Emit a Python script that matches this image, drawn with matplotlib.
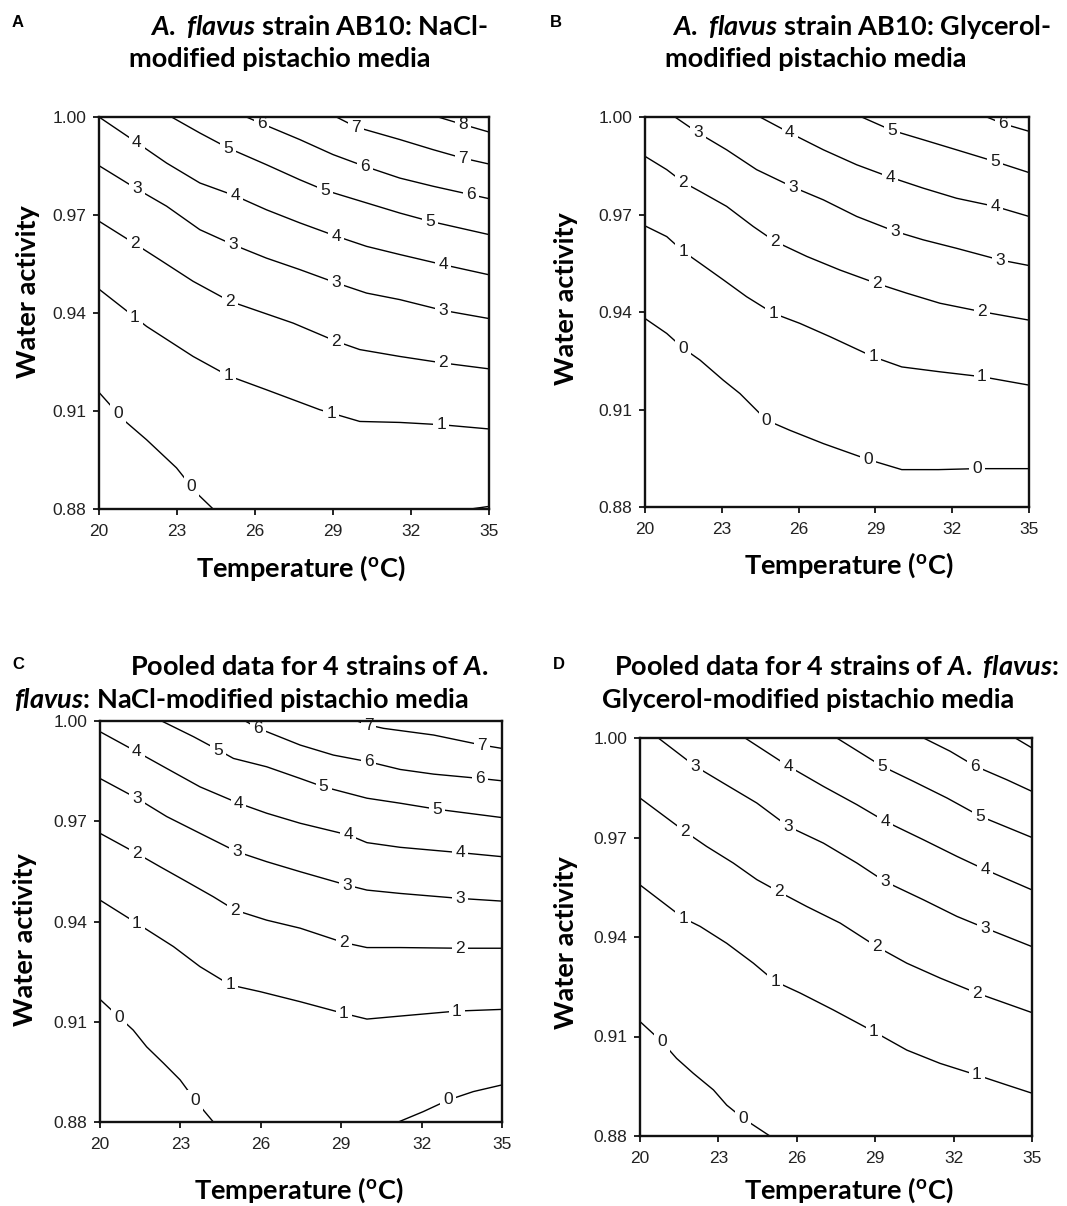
import numpy as np
import matplotlib.pyplot as plt

plt.rcParams["mathtext.fontset"] = "custom"
plt.rcParams["mathtext.rm"] = "Lato:bold"
plt.rcParams["mathtext.bf"] = "Lato:bold"
plt.rcParams["mathtext.it"] = "Lato:italic:bold"

W, H = 1067, 1206
TITLE_FONT = "Lato"
NUM_FONT = "Liberation Sans"

temp_ticks = [20, 23, 26, 29, 32, 35]
aw_ticks = [0.88, 0.91, 0.94, 0.97, 1.00]

# ---- A: strain AB10, NaCl-modified media ----
a_levels = [0, 0, 1, 2, 3, 4, 5, 6, 7, 8]
a_temp = [
    [20.0, 20.94, 21.83, 22.98, 23.75, 24.39],
    [34.3, 35.0],
    [20.0, 21.83, 23.62, 24.97, 26.44, 28.49, 30.03, 31.57, 33.17, 35.0],
    [20.0, 21.38, 22.34, 23.62, 25.03, 27.47, 29.13, 30.03, 31.57, 33.23, 35.0],
    [20.0, 21.45, 22.60, 23.88, 25.16, 26.44, 27.72, 29.13, 30.29, 31.57, 33.23, 35.0],
    [20.0, 21.45, 22.60, 23.88, 25.23, 26.44, 27.72, 29.13, 30.29, 31.57, 33.23, 35.0],
    [22.79, 23.88, 24.97, 26.44, 27.72, 28.68, 30.29, 31.57, 32.72, 35.0],
    [25.67, 26.25, 27.72, 29.00, 30.22, 31.57, 32.85, 34.32, 35.0],
    [29.13, 29.90, 31.57, 32.85, 34.00, 35.0],
    [33.04, 34.00, 35.0],
]
a_aw = [
    [0.9157, 0.9073, 0.9012, 0.8926, 0.8849, 0.8800],
    [0.8800, 0.8808],
    [0.9473, 0.9359, 0.9267, 0.9208, 0.9165, 0.9104, 0.9068, 0.9065, 0.9058, 0.9045],
    [0.9681, 0.9612, 0.9563, 0.9497, 0.9436, 0.9369, 0.9313, 0.9288, 0.9267, 0.9247, 0.9229],
    [0.9851, 0.9780, 0.9727, 0.9655, 0.9609, 0.9568, 0.9533, 0.9492, 0.9461, 0.9441, 0.9408, 0.9383],
    [1.0, 0.9922, 0.9859, 0.9798, 0.9759, 0.9716, 0.9676, 0.9635, 0.9604, 0.9579, 0.9548, 0.9517],
    [1.0, 0.9951, 0.9905, 0.9854, 0.9808, 0.9776, 0.9737, 0.9706, 0.9681, 0.9640],
    [1.0, 0.9980, 0.9931, 0.9885, 0.9849, 0.9813, 0.9788, 0.9762, 0.9750],
    [1.0, 0.9969, 0.9931, 0.9900, 0.9874, 0.9856],
    [1.0, 0.9977, 0.9954],
]
a_label_temp = [
    [20.74, 23.56], [], [21.38, 24.97, 28.94, 33.17], [21.38, 25.03, 29.13, 33.23],
    [21.45, 25.16, 29.13, 33.23], [21.45, 25.23, 29.13, 33.23], [24.97, 28.68, 32.72],
    [26.25, 30.22, 34.32], [29.90, 34.0], [34.0],
]

# ---- B: strain AB10, glycerol-modified media ----
b_levels = [0, 1, 2, 3, 4, 5, 6]
b_temp = [
    [20.0, 20.85, 21.50, 22.15, 23.06, 23.71, 24.75, 25.66, 26.97, 28.72, 30.03, 31.46, 32.96, 35.0],
    [20.0, 20.85, 21.50, 22.15, 23.06, 23.97, 25.01, 26.05, 27.23, 28.92, 30.03, 31.52, 33.15, 35.0],
    [20.0, 20.85, 21.50, 22.15, 23.19, 24.23, 25.08, 26.32, 27.62, 29.05, 30.22, 31.52, 33.15, 35.0],
    [21.17, 22.08, 23.19, 24.36, 25.79, 26.97, 28.27, 29.77, 30.87, 32.17, 33.87, 35.0],
    [24.49, 25.66, 26.97, 28.27, 29.57, 30.87, 32.17, 33.67, 35.0],
    [28.46, 29.64, 30.87, 32.17, 33.67, 35.0],
    [33.35, 34.0, 35.0],
]
b_aw = [
    [0.9380, 0.9334, 0.9288, 0.9252, 0.9190, 0.9149, 0.9067, 0.9036, 0.8995, 0.8946, 0.8915, 0.8915, 0.8918, 0.8918],
    [0.9665, 0.9632, 0.9586, 0.9550, 0.9499, 0.9447, 0.9396, 0.9365, 0.9324, 0.9262, 0.9231, 0.9216, 0.9201, 0.9175],
    [0.9879, 0.9838, 0.9799, 0.9771, 0.9725, 0.9663, 0.9617, 0.9571, 0.9529, 0.9488, 0.9458, 0.9427, 0.9401, 0.9375],
    [1.0, 0.9951, 0.9899, 0.9838, 0.9784, 0.9745, 0.9694, 0.9648, 0.9622, 0.9596, 0.9560, 0.9543],
    [1.0, 0.9951, 0.9899, 0.9853, 0.9815, 0.9781, 0.9750, 0.9725, 0.9694],
    [1.0, 0.9959, 0.9930, 0.9899, 0.9863, 0.9829],
    [1.0, 0.9979, 0.9956],
]
b_label_temp = [
    [21.50, 24.75, 28.72, 32.96], [21.50, 25.01, 28.92, 33.15], [21.50, 25.08, 29.05, 33.15],
    [22.08, 25.79, 29.77, 33.87], [25.66, 29.57, 33.67], [29.64, 33.67], [34.0],
]

# ---- C: pooled 4 strains, NaCl-modified media ----
c_levels = [0, 0, 1, 2, 3, 4, 5, 6, 7]
c_temp = [
    [20.0, 21.24, 21.74, 22.37, 22.99, 23.54, 24.23],
    [31.13, 32.06, 33.0, 33.93, 35.0],
    [20.0, 21.37, 22.74, 23.73, 24.86, 25.98, 27.47, 29.09, 29.96, 31.20, 33.32, 35.0],
    [20.0, 21.37, 22.24, 23.24, 24.23, 25.04, 26.22, 27.47, 29.09, 29.96, 31.20, 33.44, 35.0],
    [20.0, 21.37, 22.49, 23.73, 25.10, 26.22, 27.47, 29.21, 29.96, 31.20, 33.44, 35.0],
    [20.0, 21.37, 22.49, 23.73, 25.17, 26.22, 27.47, 29.27, 29.96, 31.20, 33.44, 35.0],
    [22.30, 23.49, 24.42, 24.98, 26.22, 27.47, 28.34, 29.96, 31.20, 32.57, 35.0],
    [25.42, 25.91, 27.47, 28.71, 30.02, 31.20, 32.45, 34.19, 35.0],
    [29.59, 30.02, 30.58, 32.45, 34.25, 35.0],
]
c_aw = [
    [0.9167, 0.9075, 0.9025, 0.8976, 0.8926, 0.8866, 0.8800],
    [0.8800, 0.8831, 0.8866, 0.8891, 0.8911],
    [0.9464, 0.9395, 0.9325, 0.9265, 0.9210, 0.9190, 0.9160, 0.9125, 0.9108, 0.9117, 0.9132, 0.9137],
    [0.9664, 0.9604, 0.9564, 0.9519, 0.9474, 0.9434, 0.9404, 0.9380, 0.9337, 0.9322, 0.9322, 0.9320, 0.9320],
    [0.9828, 0.9769, 0.9714, 0.9664, 0.9609, 0.9579, 0.9549, 0.9509, 0.9494, 0.9484, 0.9469, 0.9461],
    [0.9968, 0.9908, 0.9858, 0.9803, 0.9754, 0.9724, 0.9694, 0.9659, 0.9636, 0.9622, 0.9606, 0.9594],
    [1.0, 0.9953, 0.9913, 0.9888, 0.9863, 0.9828, 0.9803, 0.9769, 0.9754, 0.9736, 0.9711],
    [1.0, 0.9978, 0.9928, 0.9898, 0.9878, 0.9855, 0.9841, 0.9828, 0.9821],
    [1.0, 0.9988, 0.9978, 0.9958, 0.9928, 0.9918],
]
c_label_temp = [
    [20.72, 23.55], [33.0], [21.37, 24.86, 29.09, 33.32], [21.37, 25.04, 29.09, 33.44],
    [21.37, 25.10, 29.21, 33.44], [21.37, 25.17, 29.27, 33.44], [24.42, 28.34, 32.57],
    [25.91, 30.02, 34.19], [30.02, 34.25],
]

# ---- D: pooled 4 strains, glycerol-modified media ----
d_levels = [0, 1, 2, 3, 4, 5, 6, 7]
d_temp = [
    [20.0, 20.83, 21.40, 22.04, 22.81, 23.32, 23.95, 24.97],
    [20.0, 21.66, 22.30, 23.32, 24.34, 25.17, 26.13, 27.40, 28.94, 30.21, 31.48, 32.88, 34.03, 35.0],
    [20.0, 21.72, 22.55, 23.57, 24.47, 25.30, 26.38, 27.66, 29.06, 30.21, 31.49, 32.89, 35.0],
    [20.70, 22.11, 23.19, 24.47, 25.68, 27.02, 28.30, 29.38, 30.85, 32.13, 33.21, 35.0],
    [24.02, 25.68, 27.02, 28.30, 29.38, 30.85, 32.13, 33.21, 35.0],
    [27.53, 29.26, 30.47, 31.75, 33.02, 35.0],
    [30.85, 31.87, 32.83, 34.04, 35.0],
    [34.36, 35.0],
]
d_aw = [
    [0.9145, 0.9085, 0.9034, 0.8989, 0.8939, 0.8893, 0.8853, 0.8800],
    [0.9557, 0.9457, 0.9432, 0.9381, 0.9321, 0.9266, 0.9231, 0.9180, 0.9115, 0.9059, 0.9019, 0.8984, 0.8954, 0.8929],
    [0.9819, 0.9718, 0.9673, 0.9623, 0.9573, 0.9537, 0.9492, 0.9442, 0.9371, 0.9321, 0.9276, 0.9231, 0.9172],
    [1.0, 0.9915, 0.9864, 0.9804, 0.9733, 0.9683, 0.9623, 0.9567, 0.9512, 0.9462, 0.9427, 0.9371],
    [1.0, 0.9915, 0.9854, 0.9799, 0.9749, 0.9693, 0.9643, 0.9603, 0.9542],
    [1.0, 0.9915, 0.9869, 0.9819, 0.9764, 0.9700],
    [1.0, 0.9960, 0.9915, 0.9874, 0.9839],
    [1.0, 0.9970],
]
d_label_temp = [
    [20.83, 23.95], [21.66, 25.17, 28.94, 32.88], [21.72, 25.30, 29.06, 32.89],
    [22.11, 25.68, 29.38, 33.21], [25.68, 29.38, 33.21], [29.26, 33.02], [32.83], [],
]


def fx(x):
    return x / W


def fy(y):
    return 1 - y / H


def draw_panel(fig, box, levels, temps, aws, label_temps):
    x0, y0, x1, y1 = box
    ax = fig.add_axes([fx(x0), fy(y1), (x1 - x0) / W, (y1 - y0) / H])
    for lev, t, a, lt in zip(levels, temps, aws, label_temps):
        ax.plot(t, a, color="black", lw=1.0, zorder=1.5, clip_on=False)
        for tl in lt:
            ax.text(tl, np.interp(tl, t, a), str(lev), ha="center", va="center",
                    fontsize=12.5, family=NUM_FONT, color="#1a1a1a", zorder=2,
                    bbox=dict(boxstyle="square,pad=0.18", fc="white", ec="none"))
    ax.set_xlim(20, 35)
    ax.set_ylim(0.88, 1.0)
    ax.set_xticks(temp_ticks)
    ax.set_yticks(aw_ticks)
    ax.set_xticklabels([str(t) for t in temp_ticks], family=NUM_FONT, fontsize=12.5)
    ax.set_yticklabels([f"{v:.2f}" for v in aw_ticks], family=NUM_FONT, fontsize=12.5)
    ax.tick_params(direction="out", length=4, width=1.4, pad=5, colors="#222222")
    ax.tick_params(axis="x", pad=7)
    for sp in ax.spines.values():
        sp.set_linewidth(1.7)
        sp.set_color("#111111")
    return ax


fig = plt.figure(figsize=(W / 100, H / 100), dpi=100)

draw_panel(fig, (99, 117, 489, 509), a_levels, a_temp, a_aw, a_label_temp)
draw_panel(fig, (645, 117, 1029, 507), b_levels, b_temp, b_aw, b_label_temp)
draw_panel(fig, (100, 721, 502, 1122), c_levels, c_temp, c_aw, c_label_temp)
draw_panel(fig, (640, 738, 1032, 1136), d_levels, d_temp, d_aw, d_label_temp)

title_kw = dict(fontsize=19.5, family=TITLE_FONT, weight="bold", va="baseline", ha="left")
fig.text(fx(150), fy(35), r"$\mathit{A.}$ $\mathit{flavus}$ strain AB10: NaCl-", **title_kw)
fig.text(fx(129), fy(67), "modified pistachio media", **title_kw)
fig.text(fx(672), fy(35), r"$\mathit{A.}$ $\mathit{flavus}$ strain AB10: Glycerol-", **title_kw)
fig.text(fx(665), fy(67), "modified pistachio media", **title_kw)
fig.text(fx(130), fy(675), r"Pooled data for 4 strains of $\mathit{A.}$", **title_kw)
fig.text(fx(14), fy(708), r"$\mathit{flavus}$: NaCl-modified pistachio media", **title_kw)
fig.text(fx(614), fy(675), r"Pooled data for 4 strains of $\mathit{A.}$ $\mathit{flavus}$:", **title_kw)
fig.text(fx(602), fy(708), "Glycerol-modified pistachio media", **title_kw)

letter_kw = dict(fontsize=12, family=NUM_FONT, weight="bold", va="baseline", ha="left")
for letter, x, y in [("A", 12, 27), ("B", 550, 27), ("C", 12, 669), ("D", 553, 669)]:
    fig.text(fx(x), fy(y), letter, **letter_kw)

label_kw = dict(fontsize=19.5, family=TITLE_FONT, weight="bold", ha="center", va="center")
for x, y in [(28, 292), (566, 299), (25, 940), (566, 943)]:
    fig.text(fx(x), fy(y), "Water activity", rotation=90, **label_kw)
for x, y in [(301, 568), (849, 565), (299, 1190), (849, 1190)]:
    fig.text(fx(x), fy(y), r"Temperature ($^{\mathrm{o}}$C)", **label_kw)

fig.savefig("out.png", dpi=100, facecolor="white")
